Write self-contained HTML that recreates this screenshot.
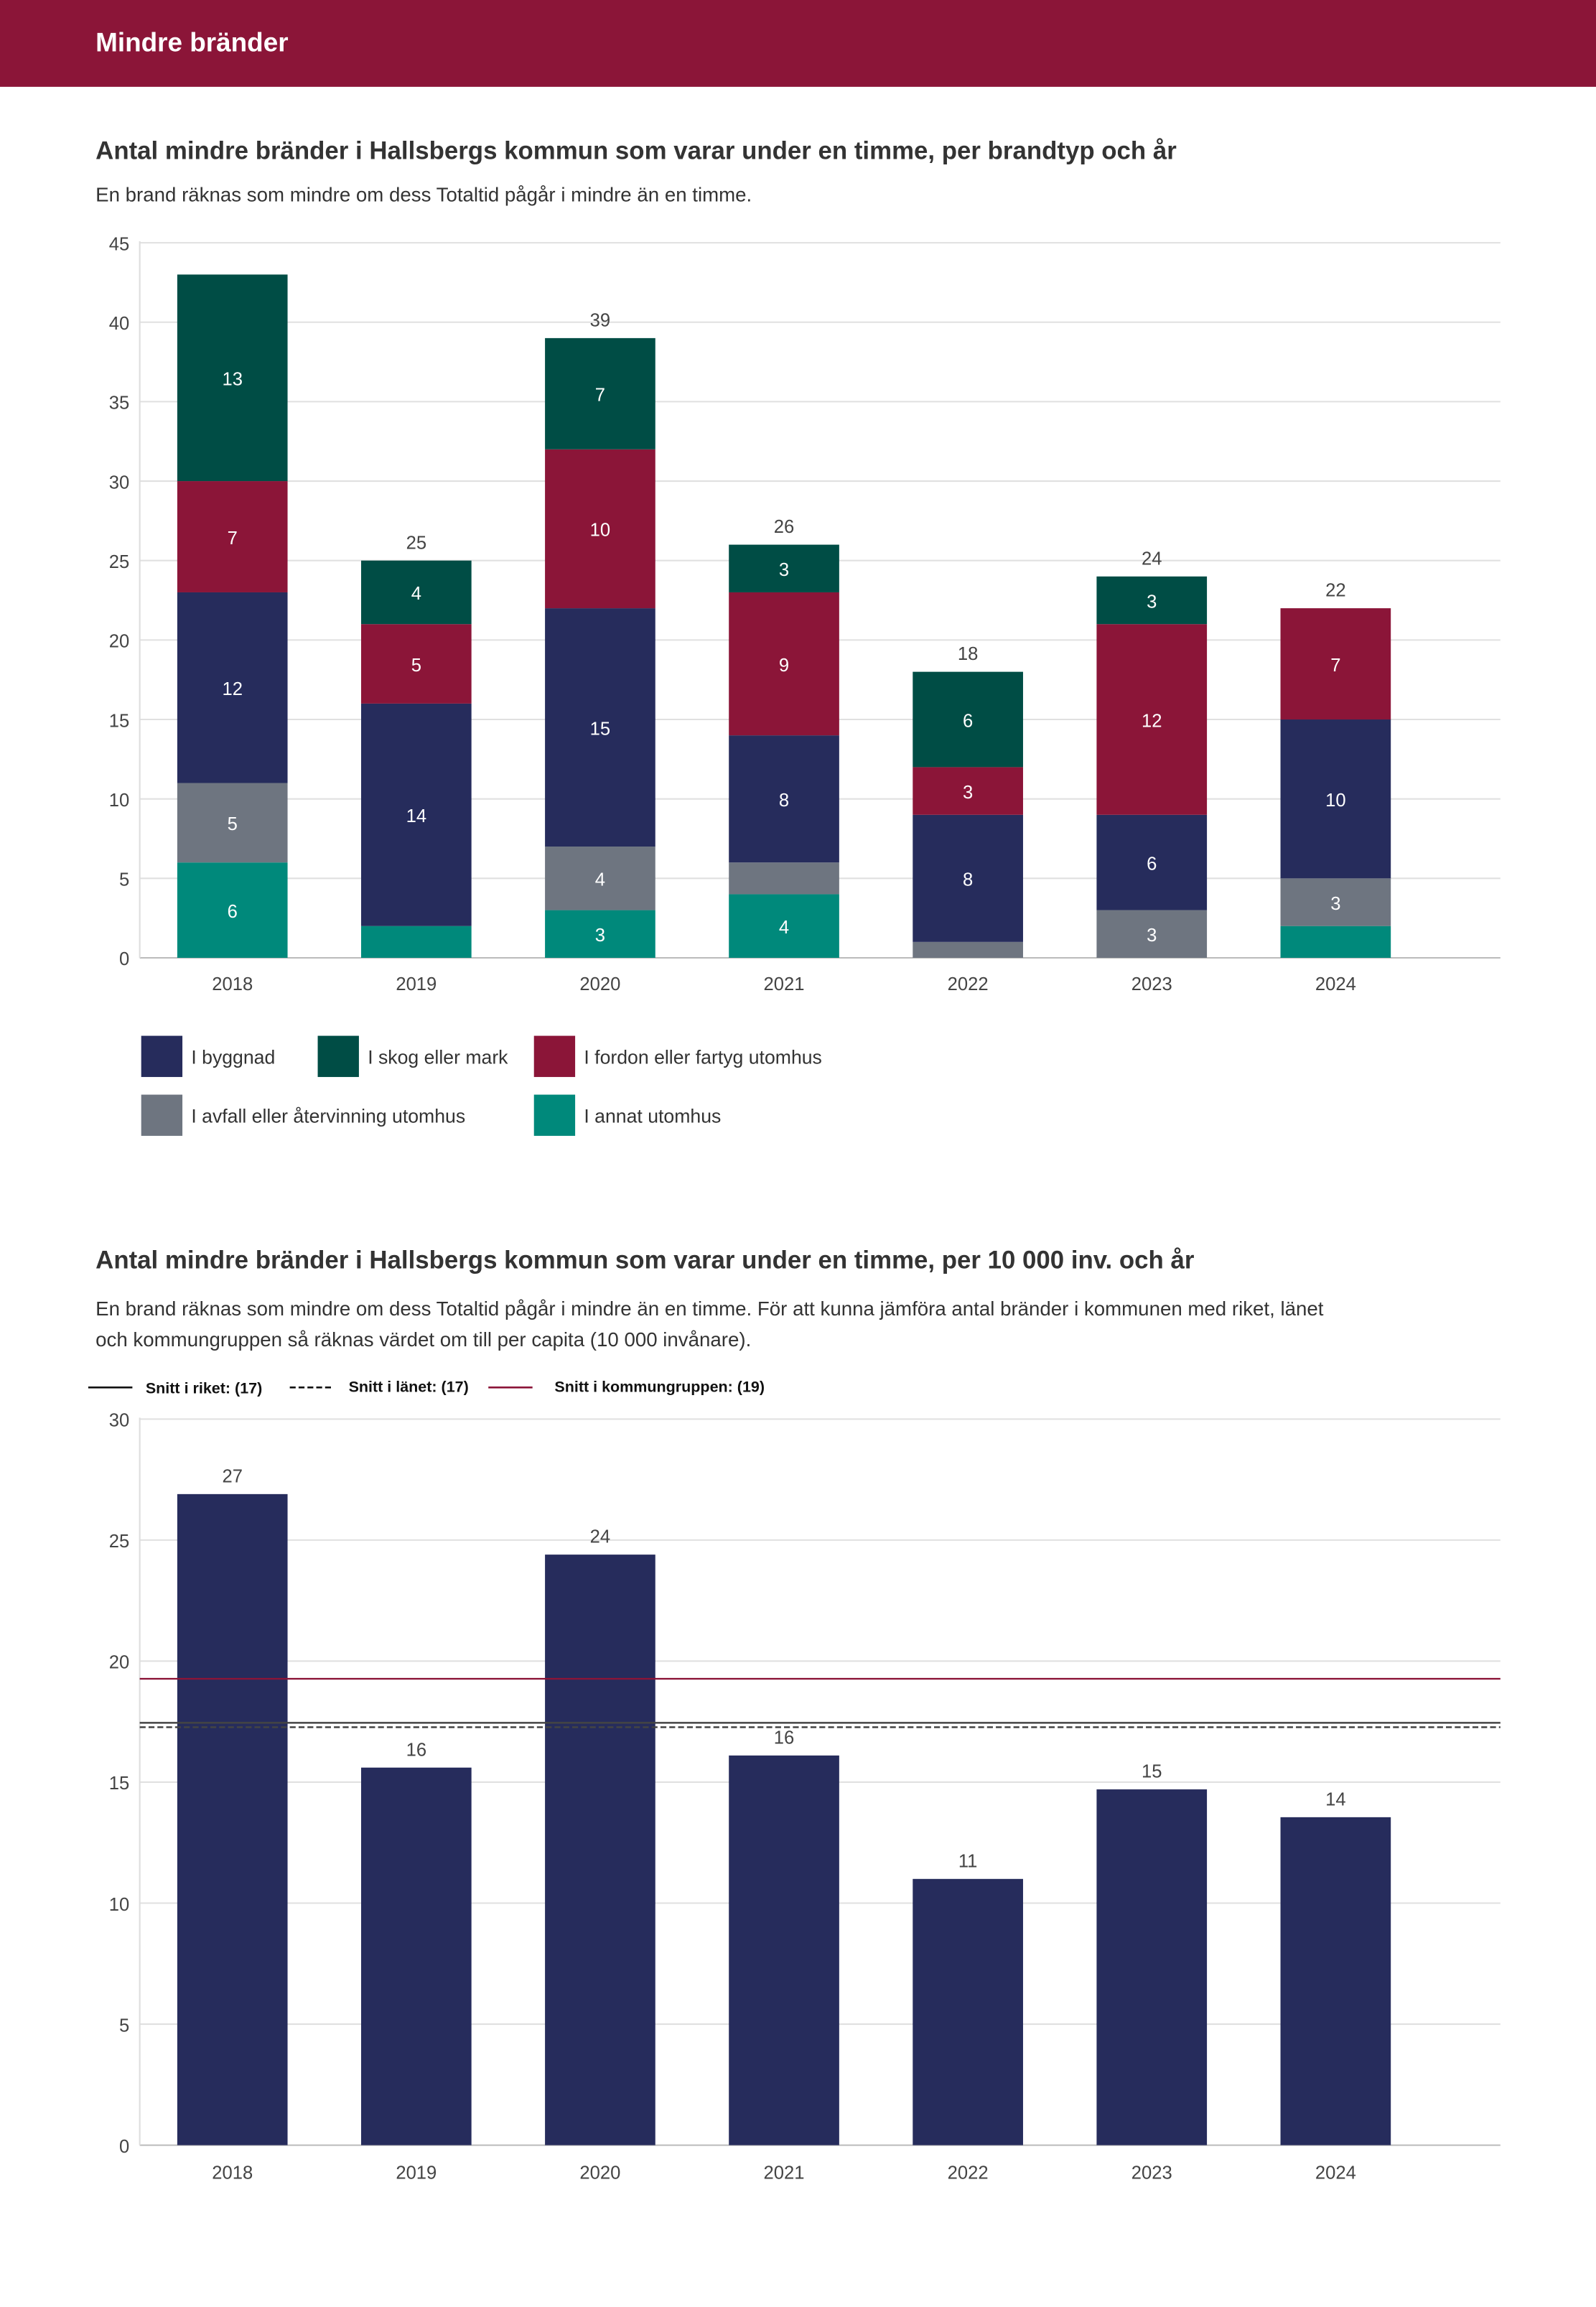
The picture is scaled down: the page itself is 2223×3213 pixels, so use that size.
<!DOCTYPE html>
<html><head><meta charset="utf-8"><style>
html,body{margin:0;padding:0;background:#fff;}
svg{display:block;font-family:"Liberation Sans",sans-serif;}
</style></head><body>
<svg id="s" width="2223" height="3213" viewBox="0 0 1085 1568" preserveAspectRatio="none">
<rect x="0" y="0" width="1085" height="59" fill="#8b1538"/>
<text x="65" y="35" fill="#fff" font-size="18" font-weight="bold">Mindre bränder</text>
<text x="65" y="108" fill="#333" font-size="17" font-weight="bold">Antal mindre bränder i Hallsbergs kommun som varar under en timme, per brandtyp och år</text>
<text x="65" y="137" fill="#333" font-size="13.5">En brand räknas som mindre om dess Totaltid pågår i mindre än en timme.</text>
<g id="c1"></g>
<g id="leg1"></g>
<text x="65" y="862" fill="#333" font-size="17" font-weight="bold">Antal mindre bränder i Hallsbergs kommun som varar under en timme, per 10 000 inv. och år</text>
<text x="65" y="894" fill="#333" font-size="13.5">En brand räknas som mindre om dess Totaltid pågår i mindre än en timme. För att kunna jämföra antal bränder i kommunen med riket, länet</text>
<text x="65" y="915" fill="#333" font-size="13.5">och kommungruppen så räknas värdet om till per capita (10 000 invånare).</text>
<g>
<line x1="60" y1="943" x2="90" y2="943" stroke="#111" stroke-width="1.3"/>
<text x="99" y="947" font-size="10.5" font-weight="bold" fill="#111">Snitt i riket: (17)</text>
<line x1="197" y1="943" x2="227" y2="943" stroke="#111" stroke-width="1.3" stroke-dasharray="4,2"/>
<text x="237" y="946" font-size="10.5" font-weight="bold" fill="#111">Snitt i länet: (17)</text>
<line x1="332" y1="943" x2="362" y2="943" stroke="#8b1538" stroke-width="1.3"/>
<text x="377" y="946" font-size="10.5" font-weight="bold" fill="#111">Snitt i kommungruppen: (19)</text>
</g>
<g id="c2"></g>
</svg>
<script>
const years = ["2018","2019","2020","2021","2022","2023","2024"];
const annat = [6,2,3,4,0,0,2];
const avfall = [5,0,4,2,1,3,3];
const byggnad = [12,14,15,8,8,6,10];
const fordon = [7,5,10,9,3,12,7];
const skog = [13,4,7,3,6,3,0];
const ticks1 = [0,5,10,15,20,25,30,35,40,45];
const perCapita = [26.9,15.6,24.4,16.1,11.0,14.7,13.55];
const ticks2 = [0,5,10,15,20,25,30];
const avgRiket = [17.45];
const avgLanet = [17.27];
const avgKommungrupp = [19.27];

const NS="http://www.w3.org/2000/svg";
function mk(parent,tag,attrs,txt){const e=document.createElementNS(NS,tag);for(const k in attrs)e.setAttribute(k,attrs[k]);if(txt!==undefined)e.textContent=txt;parent.appendChild(e);return e;}
const L=95,R=1020,bw=75;
const xc=i=>158+i*125;

// chart 1
const c1=document.getElementById('c1');
const y1=v=>651-v*10.8;
ticks1.forEach(t=>{
  const g=mk(c1,'line',{x1:L,x2:R,y1:y1(t),y2:y1(t),stroke:t===0?'#bbb':'#e0e0e0','stroke-width':1});
  
  
  const tx=mk(c1,'text',{x:88,y:y1(t)+5,'text-anchor':'end','font-size':12.5,fill:'#444'},t);
  
  
});
const ax=mk(c1,'line',{x1:L,x2:L,y1:y1(45)-1,y2:y1(0),stroke:'#ddd'});


const series=[["annat",annat,"#00897b"],["avfall",avfall,"#6e7580"],["byggnad",byggnad,"#262c5c"],["fordon",fordon,"#8b1538"],["skog",skog,"#004d45"]];
years.forEach((yr,i)=>{
  let base=0;
  series.forEach(([nm,arr,col])=>{
    const v=arr[i];
    if(v>0){
      const r=mk(c1,'rect',{x:xc(i)-bw/2,y:y1(base+v),width:bw,height:v*10.8,fill:col});
      
      
      if(v>=3){
        const t=mk(c1,'text',{x:xc(i),y:y1(base+v/2)+5,'text-anchor':'middle','font-size':12.5,fill:'#fff'},v);
        
        
      }
    }
    base+=v;
  });
  if(base<=42){
    const t=mk(c1,'text',{x:xc(i),y:y1(base)-8,'text-anchor':'middle','font-size':12.5,fill:'#444'},base);
    
    
  }
  const xl=mk(c1,'text',{x:xc(i),y:673,'text-anchor':'middle','font-size':12.5,fill:'#444'},yr);
  
  
});
// legend 1
const leg=document.getElementById('leg1');
[["I byggnad","#262c5c",96,704],["I skog eller mark","#004d45",216,704],["I fordon eller fartyg utomhus","#8b1538",363,704],["I avfall eller återvinning utomhus","#6e7580",96,744],["I annat utomhus","#00897b",363,744]].forEach(([lab,col,x,y])=>{
  const r=mk(leg,'rect',{x:x,y:y,width:28,height:28,fill:col});
  
  
  const t=mk(leg,'text',{x:x+34,y:y+19,'font-size':13,fill:'#333'},lab);
  
  
});

// chart 2
const c2=document.getElementById('c2');
const y2=v=>1458-v*16.45;
ticks2.forEach(t=>{
  const g=mk(c2,'line',{x1:L,x2:R,y1:y2(t),y2:y2(t),stroke:t===0?'#bbb':'#e0e0e0','stroke-width':1});
  
  
  const tx=mk(c2,'text',{x:88,y:y2(t)+5,'text-anchor':'end','font-size':12.5,fill:'#444'},t);
  
  
});
const ax2=mk(c2,'line',{x1:L,x2:L,y1:y2(30)-1,y2:y2(0),stroke:'#ddd'});


years.forEach((yr,i)=>{
  const v=perCapita[i];
  const r=mk(c2,'rect',{x:xc(i)-bw/2,y:y2(v),width:bw,height:v*16.45,fill:'#262c5c'});
  
  
  const t=mk(c2,'text',{x:xc(i),y:y2(v)-8,'text-anchor':'middle','font-size':12.5,fill:'#444'},Math.round(v));
  
  
  const xl=mk(c2,'text',{x:xc(i),y:1481,'text-anchor':'middle','font-size':12.5,fill:'#444'},yr);
  
  
});
const lr=mk(c2,'line',{x1:L,x2:R,y1:y2(avgRiket[0]),y2:y2(avgRiket[0]),stroke:'#444','stroke-width':1.2});


const ll=mk(c2,'line',{x1:L,x2:R,y1:y2(avgLanet[0]),y2:y2(avgLanet[0]),stroke:'#444','stroke-width':1.2,'stroke-dasharray':'4,2'});


const lk=mk(c2,'line',{x1:L,x2:R,y1:y2(avgKommungrupp[0]),y2:y2(avgKommungrupp[0]),stroke:'#8b1538','stroke-width':1.2});


</script>
</body></html>
